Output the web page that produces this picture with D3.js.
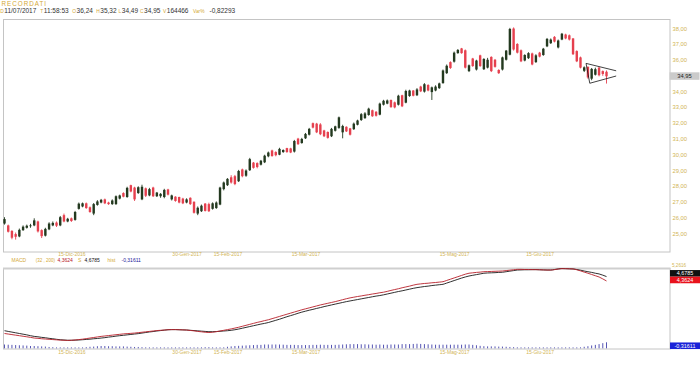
<!DOCTYPE html>
<html><head><meta charset="utf-8">
<script src="https://cdn.jsdelivr.net/npm/d3@7"></script>
<style>
html,body{margin:0;padding:0;background:#fff;}
svg{display:block;font-family:"Liberation Sans",Arial,sans-serif;}
</style></head><body>
<svg id="c" width="700" height="365"></svg>
<script>
// ---------- DATA ----------
const opens = [
25.62,25.50,25.15,24.95,24.80,25.20,25.35,25.45,25.50,25.75,
25.20,24.85,25.25,25.50,25.68,25.50,26.15,25.75,25.95,25.85,
26.55,26.70,26.90,26.65,26.25,26.80,26.95,27.15,26.95,26.85,
26.85,27.20,27.55,27.30,28.05,27.90,27.55,27.15,27.85,27.40,
27.90,27.35,27.35,27.30,27.78,27.15,27.32,27.30,27.20,26.95,
27.25,27.00,26.25,26.40,26.88,26.85,26.55,26.60,26.82,27.80,
28.05,28.55,28.62,28.30,29.05,28.65,29.00,29.48,29.45,29.35,
29.50,29.88,30.25,30.15,29.98,30.15,30.40,30.38,30.18,31.00,
30.72,31.02,31.25,31.98,31.95,31.90,31.52,31.42,31.15,31.50,
31.68,31.40,31.75,31.65,31.60,31.88,32.18,32.30,32.50,32.80,
32.70,32.52,33.15,33.22,33.45,33.30,33.15,33.75,33.28,33.70,
34.05,33.75,34.30,33.98,34.40,33.95,34.05,34.20,34.52,35.15,
35.85,35.88,36.42,36.72,36.60,35.28,36.08,35.38,36.28,35.40,
35.50,36.18,36.00,35.35,35.38,36.00,36.32,37.98,37.00,36.60,
35.95,36.10,36.40,35.85,36.45,36.30,36.85,37.05,37.45,36.78,
37.28,37.60,37.55,37.35,36.55,36.15,35.30,35.55,34.80,35.05,
35.50,35.28,35.24];
const highs = [
26.02,25.55,25.20,25.05,25.30,25.50,25.55,25.60,25.95,25.80,
25.25,25.35,25.70,25.75,25.75,26.10,26.25,25.98,26.00,26.42,
26.95,26.95,26.95,26.70,26.92,27.10,27.18,27.20,27.00,27.15,
27.40,27.45,27.60,27.95,28.08,27.95,27.98,28.08,27.90,27.88,
27.95,27.62,27.55,27.82,27.82,27.45,27.35,27.32,27.25,27.22,
27.28,27.02,26.70,26.82,26.92,26.94,26.96,27.02,27.95,28.28,
28.50,28.68,28.70,29.02,29.10,29.05,29.78,29.52,29.50,29.65,
29.98,30.18,30.30,30.20,30.42,30.32,30.42,30.42,30.92,31.05,
31.05,31.36,31.68,32.02,32.00,31.98,31.56,31.46,31.68,31.82,
32.40,31.88,31.78,31.68,32.02,32.20,32.62,32.68,32.96,32.84,
32.75,33.28,33.46,33.48,33.48,33.35,33.78,33.78,34.10,34.10,
34.08,34.20,34.35,34.52,34.45,34.30,34.38,34.55,35.38,35.70,
35.90,36.52,36.68,36.75,36.65,35.70,36.12,36.00,36.32,36.10,
36.12,36.22,36.05,35.40,36.20,36.62,38.02,38.05,37.05,36.65,
36.35,36.48,36.45,36.35,36.50,36.75,37.38,37.35,37.50,37.28,
37.70,37.65,37.60,37.38,36.60,36.20,35.58,35.58,35.48,35.50,
35.55,35.32,35.32];
const lows = [
25.55,25.05,24.62,24.60,24.75,25.15,25.30,25.35,25.45,25.05,
24.70,24.80,25.20,25.45,25.40,25.45,25.70,25.70,25.72,25.80,
26.50,26.65,26.55,26.30,26.15,26.75,26.90,26.85,26.80,26.80,
26.80,27.15,27.28,27.25,27.60,27.05,27.50,27.10,27.30,27.35,
27.30,27.30,27.25,27.22,27.40,27.08,27.00,26.90,26.85,26.90,
26.80,26.25,26.15,26.35,26.38,26.35,26.50,26.55,26.78,27.72,
28.00,28.15,28.05,28.25,28.55,28.58,28.95,29.10,29.12,29.30,
29.45,29.82,29.85,29.88,29.95,30.10,30.10,30.08,30.12,30.60,
30.68,30.98,31.20,31.65,31.35,31.22,31.10,31.00,31.10,31.45,
31.62,31.02,31.42,31.20,31.55,31.84,32.12,32.25,32.45,32.38,
32.40,32.48,33.10,33.18,32.95,32.92,33.10,33.00,33.24,33.65,
33.68,33.70,33.95,33.92,34.00,33.45,34.00,34.15,34.48,35.10,
35.42,35.82,36.38,36.38,35.45,35.22,35.55,35.32,35.55,35.35,
35.45,35.22,35.50,35.10,35.32,35.95,36.28,36.58,36.40,35.85,
35.90,36.05,35.65,35.80,36.15,36.25,36.80,37.00,37.10,36.72,
37.24,37.30,37.22,36.30,35.85,35.45,35.22,34.80,34.70,35.00,
34.95,34.98,34.49];
const closes = [
25.90,25.10,24.72,24.78,25.22,25.42,25.48,25.50,25.82,25.12,
24.82,25.28,25.62,25.66,25.48,26.02,25.75,25.92,25.78,26.35,
26.88,26.90,26.60,26.35,26.85,27.02,27.12,26.90,26.85,27.08,
27.35,27.40,27.32,27.88,27.65,27.15,27.92,27.95,27.38,27.80,
27.35,27.58,27.50,27.75,27.45,27.40,27.05,26.95,26.90,27.15,
26.85,26.30,26.62,26.75,26.42,26.40,26.90,26.95,27.90,28.22,
28.45,28.22,28.12,28.95,28.62,28.98,29.70,29.15,29.20,29.60,
29.92,30.12,29.90,29.95,30.35,30.28,30.15,30.12,30.85,30.65,
30.98,31.30,31.62,31.70,31.40,31.28,31.15,31.05,31.62,31.78,
32.35,31.80,31.46,31.25,31.95,32.15,32.55,32.60,32.90,32.42,
32.45,33.22,33.40,33.42,33.00,32.98,33.72,33.05,34.02,34.05,
33.72,34.12,34.00,34.45,34.05,34.25,34.30,34.50,35.32,35.62,
35.48,36.45,36.62,36.42,35.50,35.65,35.60,35.95,35.60,36.05,
36.00,35.28,35.55,35.15,36.15,36.58,37.95,36.65,36.45,35.90,
36.30,36.42,35.70,36.28,36.20,36.70,37.32,37.28,37.15,37.22,
37.65,37.35,37.28,36.35,35.90,35.50,35.52,34.88,35.42,35.40,
35.02,35.10,34.95];

const macdValues = [
0.57,0.53,0.49,0.45,0.41,0.37,0.33,0.29,0.24,
0.22,0.19,0.17,0.15,0.13,0.11,0.09,0.08,0.07,
0.08,0.10,0.13,0.16,0.20,0.24,0.28,0.32,0.36,
0.39,0.42,0.45,0.48,0.51,0.54,0.56,0.58,0.60,
0.63,0.66,0.69,0.72,0.75,0.78,0.80,0.82,0.84,
0.85,0.85,0.84,0.83,0.82,
0.79,0.76,0.72,0.69,0.66,0.64,
0.66,0.70,0.75,0.80,0.85,0.90,0.96,
1.02,1.09,1.16,1.23,1.30,1.37,1.43,1.50,1.56,
1.64,1.72,1.80,1.88,1.96,2.04,2.12,2.20,2.28,
2.35,2.42,2.49,2.56,2.63,2.69,2.75,2.81,2.87,
2.94,3.01,3.08,3.14,
3.19,3.24,3.28,3.33,3.37,3.42,3.46,3.51,3.55,
3.61,3.68,3.74,3.80,3.87,3.93,3.99,4.06,4.12,
4.15,4.18,4.20,4.23,4.25,4.28,4.31,
4.40,4.49,4.58,4.67,4.76,4.85,4.92,
4.95,4.98,5.00,5.03,
5.04,5.05,5.06,5.07,5.08,
5.11,5.14,5.17,5.20,
5.20,5.19,5.19,5.18,5.18,
5.17,5.16,5.15,5.15,
5.18,5.22,5.25,
5.25,5.24,5.23,
5.17,5.09,5.00,
4.92,4.83,4.74,4.65,
4.51,4.3624];
const signalValues = [
0.77,0.72,0.67,0.62,0.57,0.52,0.47,0.41,0.36,
0.33,0.29,0.26,0.22,0.19,0.15,0.12,0.10,0.08,
0.08,0.09,0.10,0.12,0.14,0.16,0.19,0.21,0.24,
0.27,0.31,0.34,0.38,0.41,0.44,0.47,0.50,0.53,
0.56,0.60,0.64,0.68,0.71,0.75,0.78,0.81,0.84,
0.85,0.85,0.84,0.83,0.82,
0.80,0.78,0.76,0.74,0.72,0.70,
0.70,0.71,0.73,0.75,0.77,0.80,0.84,
0.89,0.95,1.01,1.07,1.13,1.19,1.25,1.30,1.36,
1.44,1.52,1.60,1.69,1.78,1.86,1.94,2.03,2.11,
2.18,2.25,2.31,2.38,2.44,2.51,2.57,2.63,2.69,
2.75,2.81,2.87,2.92,
2.97,3.02,3.07,3.12,3.17,3.22,3.27,3.31,3.36,
3.42,3.48,3.54,3.60,3.65,3.71,3.77,3.83,3.88,
3.92,3.96,3.99,4.03,4.06,4.09,4.12,
4.21,4.30,4.39,4.48,4.57,4.65,4.72,
4.77,4.82,4.87,4.92,
4.94,4.95,4.96,4.98,4.99,
5.03,5.07,5.11,5.15,
5.16,5.17,5.17,5.18,5.18,
5.17,5.16,5.15,5.15,
5.19,5.23,5.2616,
5.25,5.24,5.23,
5.19,5.14,5.08,
5.03,4.98,4.92,4.87,
4.78,4.6785];
const histValues = [
-0.20,-0.19,-0.18,-0.17,-0.16,-0.15,-0.14,-0.12,-0.12,
-0.11,-0.10,-0.09,-0.07,-0.06,-0.04,-0.03,-0.02,-0.01,
0.00,0.01,0.03,0.04,0.06,0.08,0.09,0.11,0.12,
0.12,0.11,0.11,0.10,0.10,0.10,0.09,0.08,0.07,
0.07,0.06,0.05,0.04,0.04,0.03,0.02,0.01,0.00,
0.00,0.00,0.00,0.00,0.00,
-0.01,-0.02,-0.04,-0.05,-0.06,-0.06,
-0.04,-0.01,0.02,0.05,0.08,0.10,0.12,
0.13,0.14,0.15,0.16,0.17,0.18,0.18,0.20,0.20,
0.20,0.20,0.20,0.19,0.18,0.18,0.18,0.17,0.17,
0.17,0.17,0.18,0.18,0.19,0.18,0.18,0.18,0.18,
0.19,0.20,0.21,0.22,
0.22,0.22,0.21,0.21,0.20,0.20,0.19,0.20,0.19,
0.19,0.20,0.20,0.20,0.22,0.22,0.22,0.23,0.24,
0.23,0.22,0.21,0.20,0.19,0.19,0.19,
0.19,0.19,0.19,0.19,0.19,0.20,0.20,
0.18,0.16,0.13,0.11,
0.10,0.10,0.10,0.09,0.09,
0.08,0.07,0.06,0.05,
0.04,0.02,0.02,0.00,0.00,
0.00,0.00,0.00,0.00,
-0.01,-0.01,-0.01,
0.00,0.00,0.00,
-0.02,-0.05,-0.08,
-0.11,-0.15,-0.18,-0.22,
-0.27,-0.31611];

const tickLabels = ["15-Dic-2016","30-Gen-2017","15-Feb-2017","15-Mar-2017","15-Mag-2017","15-Giu-2017"];
const tickIndex  = [18, 49, 60, 81, 121, 144];
// 35,00 is hidden under the last-price box in the reference
const priceTicks = [25,26,27,28,29,30,31,32,33,34,36,37,38];
const lastPrice = 34.95;
const macdLast = 4.3624, signalLast = 4.6785, histLast = -0.31611, macdMax = 5.2616;
// triangle drawing: [candle index, price]
const triUpper = [[156.5,35.77],[164.6,35.30]];
const triLower = [[157.5,34.51],[164.6,34.97]];
const triLeft  = [[156.5,35.77],[157.5,34.51]];
const title = "RECORDATI";
const headerKeys = ["D","T","O","H","L","C","V","Var%"];
const headerVals = ["11/07/2017","11:58:53","36,24","35,32","34,49","34,95","164466","-0,82293"];
const macdHeader = ["MACD","(32 , 200)","4,3624","S","4,6785","hist","-0,31611"];

// ---------- DRAW ----------
const svg = d3.select("#c");
const GOLD = "#d4a935", AX = "#d2b555", TXT = "#333";
const UP = "#23391f", DN = "#e5404e";
const fmt = v => v.toFixed(2).replace(".", ",");

const x = d3.scaleLinear().domain([0, 162]).range([4.5, 606.5]);
const yP = d3.scaleLinear().domain([25, 38]).range([233.3, 28.2]);
const yM = d3.scaleLinear().domain([-0.55, macdMax]).range([349, 268.5]);

// header
svg.append("text").attr("x", 1.5).attr("y", 5.8).attr("font-size", 6.3).attr("fill", GOLD)
  .attr("letter-spacing", 1.0).text(title);
const hx = [0.3, 40.3, 72.3, 96.3, 118.5, 140.0, 163.0, 193.0];
const vx = [4.3, 43.8, 76.6, 100.3, 121.8, 144.1, 166.8, 209.5];
headerKeys.forEach((k, i) => {
  svg.append("text").attr("x", hx[i]).attr("y", 12.6).attr("font-size", 4.9).attr("fill", GOLD).text(k);
  svg.append("text").attr("x", vx[i]).attr("y", 12.6).attr("font-size", 6.5).attr("fill", TXT).text(headerVals[i]);
});

// main panel frame
svg.append("rect").attr("x", 3.5).attr("y", 19.5).attr("width", 666.5).attr("height", 232.5)
  .attr("fill", "none").attr("stroke", "#c4c4c4");

// right price axis
const ya = svg.append("g").attr("transform", "translate(670,0)")
  .call(d3.axisRight(yP).tickValues(priceTicks).tickSize(0).tickPadding(2.5).tickFormat(fmt));
ya.select(".domain").remove();
ya.selectAll("text").attr("fill", AX).attr("font-size", 5.8).attr("font-family", "Liberation Sans, Arial");

// candles
const idx = d3.range(opens.length);
const cg = svg.append("g");
cg.selectAll("line.w").data(idx).join("line")
  .attr("x1", i => x(i)).attr("x2", i => x(i))
  .attr("y1", i => yP(highs[i])).attr("y2", i => yP(lows[i]))
  .attr("stroke", i => closes[i] >= opens[i] ? UP : DN).attr("stroke-width", 0.9);
cg.selectAll("rect").data(idx).join("rect")
  .attr("x", i => x(i) - 1.2).attr("width", 2.4)
  .attr("y", i => yP(Math.max(opens[i], closes[i])))
  .attr("height", i => Math.max(0.8, Math.abs(yP(opens[i]) - yP(closes[i]))))
  .attr("fill", i => closes[i] >= opens[i] ? UP : DN);

// triangle drawing
const tl = d3.line().x(d => x(d[0])).y(d => yP(d[1]));
[triUpper, triLower, triLeft].forEach(p =>
  svg.append("path").attr("d", tl(p)).attr("fill", "none").attr("stroke", "#111").attr("stroke-width", 0.8));

// last price box
const lp = yP(lastPrice);
svg.append("rect").attr("x", 669.5).attr("y", lp - 4).attr("width", 30).attr("height", 7.5).attr("fill", "#cbcbcb");
svg.append("text").attr("x", 684.5).attr("y", lp + 1.8).attr("text-anchor", "middle")
  .attr("font-size", 5.8).attr("fill", "#222").text(fmt(lastPrice));

// date labels
function dateAxis(y) {
  const g = svg.append("g").attr("transform", `translate(0,${y})`)
    .call(d3.axisBottom(x).tickValues(tickIndex).tickSize(0).tickPadding(0.6)
      .tickFormat((d, i) => tickLabels[i]));
  g.select(".domain").remove();
  g.selectAll("text").attr("fill", AX).attr("font-size", 5.0).attr("font-family", "Liberation Sans, Arial");
}
dateAxis(252);

// MACD header
const mhCol = [GOLD, GOLD, "#b8202a", GOLD, "#111", GOLD, "#1c1c9a"];
const mhX = [11.5, 35.8, 57.5, 78, 84.5, 107.5, 121.5];
macdHeader.forEach((t, i) => svg.append("text").attr("x", mhX[i]).attr("y", 262.3)
  .attr("font-size", i === 1 ? 4.5 : 5.0).attr("fill", mhCol[i]).text(t));

// MACD panel
svg.append("rect").attr("x", 3.5).attr("y", 268.5).attr("width", 666.5).attr("height", 80.5)
  .attr("fill", "none").attr("stroke", "#c4c4c4");
svg.append("line").attr("x1", 3).attr("x2", 670.5).attr("y1", 268.6).attr("y2", 268.6)
  .attr("stroke", "#cfcfcf").attr("stroke-width", 2);

// histogram
const hBase = 348.3;
svg.append("g").selectAll("line").data(idx).join("line")
  .attr("x1", i => x(i)).attr("x2", i => x(i))
  .attr("y1", hBase).attr("y2", i => hBase - Math.max(0.9, Math.abs(histValues[i]) * 19))
  .attr("stroke", "#2a2aa0").attr("stroke-width", 0.8);

// MACD lines
const ml = d3.line().x((d, i) => x(i)).y(d => yM(d)).curve(d3.curveMonotoneX);
svg.append("path").attr("d", ml(signalValues)).attr("fill", "none").attr("stroke", "#1a1a1a").attr("stroke-width", 0.9);
svg.append("path").attr("d", ml(macdValues)).attr("fill", "none").attr("stroke", "#b8202a").attr("stroke-width", 0.9);

// MACD right labels
svg.append("text").attr("x", 672).attr("y", yM(macdMax) - 2).attr("font-size", 4.6).attr("fill", AX)
  .text(macdMax.toFixed(4).replace(".", ","));
const redC = yM(macdLast) - 1, blkC = redC - 6.6, bluC = yM(histLast);
[[blkC, "#111", signalLast], [redC, "#e8121c", macdLast], [bluC, "#1a22d8", histLast]].forEach(([cy, col, v]) => {
  svg.append("rect").attr("x", 670).attr("y", cy - 3.3).attr("width", 30).attr("height", 6.6).attr("fill", col);
  svg.append("text").attr("x", 685).attr("y", cy + 1.9).attr("text-anchor", "middle").attr("font-size", 5.4)
    .attr("fill", "#fff").text(String(v).replace(".", ","));
});

// date labels (bottom)
dateAxis(349.5);
</script>
</body></html>
